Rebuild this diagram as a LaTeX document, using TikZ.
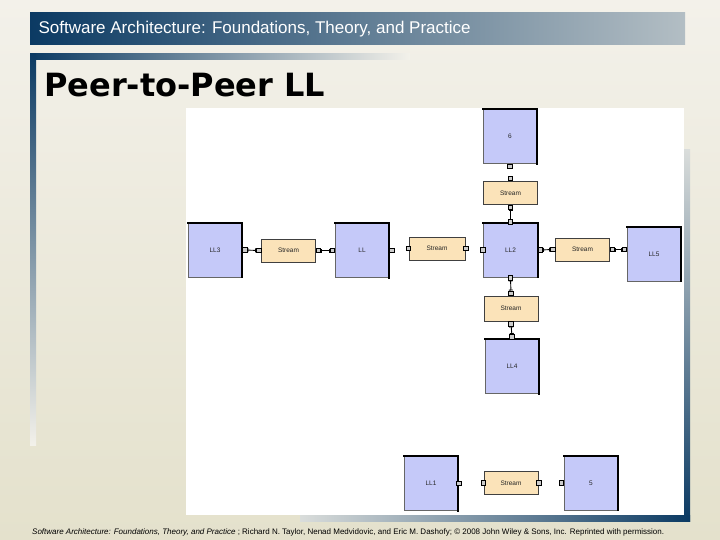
\documentclass[tikz,border=0pt]{standalone}
\usepackage{fontspec}
\setmainfont{Liberation Sans}
\newfontfamily\titlefont{DejaVu Sans}
\usetikzlibrary{arrows.meta,positioning}
\definecolor{navy}{HTML}{0B3A63}
\definecolor{steel}{HTML}{B3BEC4}
\definecolor{paper}{HTML}{F3F1EA}
\definecolor{sand}{HTML}{E4E1CC}
\definecolor{peer}{HTML}{C5C9F9}
\definecolor{pipe}{HTML}{FBE3B9}
\tikzset{comp/.style={draw=black!60,fill=peer,minimum width=54pt,minimum height=54pt,inner sep=0pt,font=\fontsize{6.5}{7}\selectfont,text=black!85}, stream/.style={draw=black!75,fill=pipe,minimum width=54pt,minimum height=23pt,inner sep=0pt,font=\fontsize{6.5}{7}\selectfont,text=black!85}, port/.style={draw=black,fill=black!20,line width=0.8pt,minimum size=4.5pt,inner sep=0pt}, wire/.style={{Bar[width=4pt]}-{Bar[width=4pt]},line width=0.9pt}, rim/.style={line width=2pt,line cap=rect}}

\begin{document}
\begin{tikzpicture}[x=1pt,y=-1pt]
% slide
\fill[top color=paper,bottom color=sand] (0,0) rectangle (720,540);
\fill[left color=navy,middle color=navy!55!steel,right color=steel] (30,13) rectangle (685,45);
\fill[left color=navy,right color=paper] (30,54) rectangle (410,60);
\fill[top color=navy,bottom color=paper] (30,54) rectangle (36,445);
\fill[top color=steel!40!paper,bottom color=navy] (684,150) rectangle (690,521);
\fill[left color=steel!40!paper,right color=navy] (300,515) rectangle (690,521);
\fill[white] (186,108) rectangle (684,515);
\node[anchor=west,text=white,font=\fontsize{17}{20}\selectfont] (head) at (35,29) {Software Architecture: Foundations, Theory, and Practice};
\node[anchor=base west,inner sep=0pt,font=\titlefont\bfseries\fontsize{32}{38}\selectfont] (title) at (44,97) {Peer-to-Peer LL};
\node[anchor=base west,inner sep=0pt,font=\fontsize{8}{9}\selectfont] (foot) at (32,534) {\textit{Software Architecture: Foundations, Theory, and Practice} ; Richard N. Taylor, Nenad Medvidovic, and Eric M. Dashofy; \textcopyright\ 2008 John Wiley \& Sons, Inc. Reprinted with permission.};

% components and streams
\node[comp] (n6) at (510,136.5) {6};
\node[stream] (st6) at (510.5,193) {Stream};
\node[comp] (ll2) at (510.5,250) {LL2};
\node[stream] (st3) at (582.5,249.5) {Stream};
\node[comp] (ll5) at (654,254) {LL5};
\node[stream,minimum width=56pt] (st2) at (437,248.5) {Stream};
\node[comp] (ll) at (362,250.5) {LL};
\node[stream] (st1) at (288.5,250.5) {Stream};
\node[comp] (ll3) at (215,250) {LL3};
\node[stream,minimum height=25pt] (st4) at (511,308.5) {Stream};
\node[comp] (ll4) at (512,366.5) {LL4};
\node[comp] (ll1) at (431,483.5) {LL1};
\node[stream] (st5) at (511,483) {Stream};
\node[comp] (n5) at (591,483) {5};
\foreach \n in {n6,ll2,ll5,ll,ll3,ll4,ll1,n5}
  \draw[rim] (\n.north west) -- (\n.north east) -- (\n.south east);

% ports
\node[port,right=0pt of ll3] (ll3e) {};
\node[port,left=0pt of st1] (st1w) {};
\node[port,right=0pt of st1] (st1e) {};
\node[port,left=0pt of ll] (llw) {};
\node[port,right=0pt of ll] (lle) {};
\node[port,left=-2pt of st2] (st2w) {};
\node[port,right=-2pt of st2] (st2e) {};
\node[port,left=-2pt of ll2] (ll2w) {};
\node[port,right=0pt of ll2] (ll2e) {};
\node[port,left=0pt of st3] (st3w) {};
\node[port,right=0pt of st3] (st3e) {};
\node[port,anchor=east] (ll5w) at (ll5.west |- st3.east) {};
\node[port,below=0pt of n6] (n6s) {};
\node[port,above=0pt of st6] (st6n) {};
\node[port,below=0pt of st6] (st6s) {};
\node[port,above=-2pt of ll2] (ll2n) {};
\node[port,below=-2pt of ll2] (ll2s) {};
\node[port,above=0pt of st4] (st4n) {};
\node[port,below=0pt of st4] (st4s) {};
\node[port,above=0pt of ll4] (ll4n) {};
\node[port,right=-2pt of ll1] (ll1e) {};
\node[port,left=-2pt of st5] (st5w) {};
\node[port,right=-2pt of st5] (st5e) {};
\node[port,left=0pt of n5] (n5w) {};

% links
\draw[wire] (ll3e) -- (st1w);
\draw[wire] (st1e) -- (llw);
\draw[wire] (ll2e) -- (st3w);
\draw[wire] (st3e) -- (ll5w);
\draw[wire] (st6s) -- (ll2n);
\draw[wire] (ll2s) -- (st4n);
\draw[wire] (st4s) -- (ll4n);
\end{tikzpicture}
\end{document}
